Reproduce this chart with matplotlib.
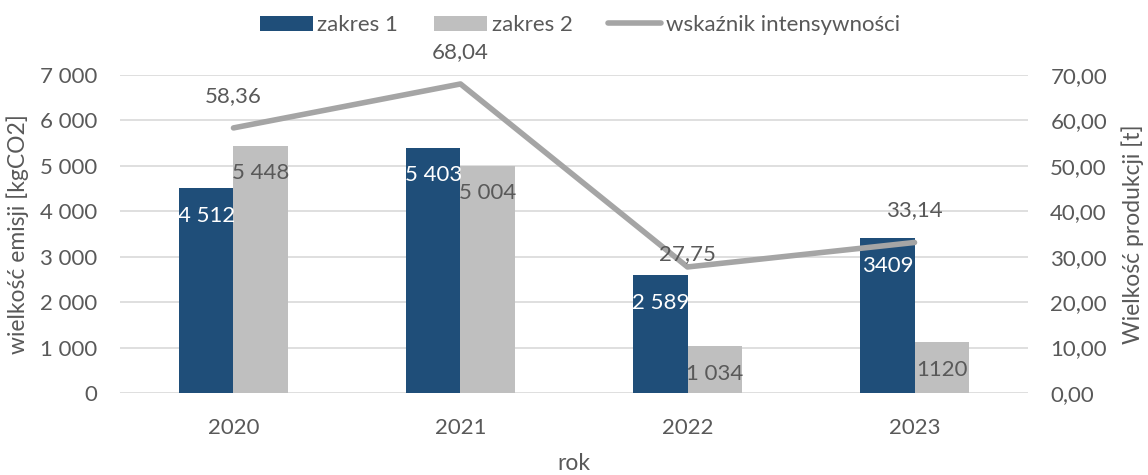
import matplotlib
matplotlib.use("Agg")
import matplotlib.pyplot as plt
import numpy as np
from matplotlib.ticker import FuncFormatter

plt.rcParams['font.family'] = ['Lato', 'DejaVu Sans']

years = ["2020", "2021", "2022", "2023"]
zakres1 = [4512, 5403, 2589, 3409]
zakres2 = [5448, 5004, 1034, 1120]
zakres1_labels = ["4 512", "5 403", "2 589", "3409"]
zakres2_labels = ["5 448", "5 004", "1 034", "1120"]
wskaznik = [58.36, 68.04, 27.75, 33.14]
wskaznik_labels = ["58,36", "68,04", "27,75", "33,14"]

c_blue = "#1f4e79"
c_grey = "#bfbfbf"
c_line = "#a5a5a5"
c_text = "#595959"
c_grid = "#d9d9d9"

FS = 16

fig = plt.figure(figsize=(11.48, 4.75), dpi=100)
ax = fig.add_axes([0.1045, 0.1726, 0.791, 0.6694])
ax2 = ax.twinx()

x = np.arange(len(years))
w = 0.238
b1 = ax.bar(x - w / 2, zakres1, w, color=c_blue, label="zakres 1", zorder=2)
b2 = ax.bar(x + w / 2, zakres2, w, color=c_grey, label="zakres 2", zorder=2)

ax.set_ylim(0, 7000)
ax.set_xlim(-0.5, len(years) - 0.5)
ax.set_yticks(np.arange(0, 7001, 1000))
ax.yaxis.set_major_formatter(FuncFormatter(lambda v, p: f"{int(v):,}".replace(",", " ")))
ax.set_xticks(x)
ax.set_xticklabels(years)
ax.grid(axis="y", color=c_grid, linewidth=1.2, zorder=0)
ax.set_axisbelow(True)
for s in ax.spines.values():
    s.set_visible(False)
for s in ax2.spines.values():
    s.set_visible(False)
ax.tick_params(axis="y", length=0, colors=c_text, labelsize=FS, pad=16)
ax.tick_params(axis="x", length=0, colors=c_text, labelsize=FS, pad=18)

ax2.set_ylim(0, 70)
ax2.set_yticks(np.arange(0, 71, 10))
ax2.yaxis.set_major_formatter(FuncFormatter(lambda v, p: f"{v:.2f}".replace(".", ",")))
ax2.tick_params(axis="y", length=0, colors=c_text, labelsize=FS, pad=16)
ln, = ax2.plot(x, wskaznik, color=c_line, linewidth=4, label="wskaźnik intensywności",
               solid_capstyle="round", zorder=3)

ax.set_ylabel("wielkość emisji [kgCO2]", fontsize=FS + 0.5, color=c_text, labelpad=8)
ax2.set_ylabel("Wielkość produkcji [t]", fontsize=FS + 0.5, color=c_text, labelpad=10)
ax.set_xlabel("rok", fontsize=FS + 0.5, color=c_text, labelpad=11)

for xi, v, lab in zip(x, zakres1, zakres1_labels):
    ax.annotate(lab, (xi - w / 2, v), xytext=(0, -20), textcoords="offset points",
                ha="center", va="center", color="white", fontsize=FS, zorder=4)
for xi, v, lab in zip(x, zakres2, zakres2_labels):
    ax.annotate(lab, (xi + w / 2, v), xytext=(0, -20), textcoords="offset points",
                ha="center", va="center", color=c_text, fontsize=FS, zorder=4)

line_offsets = [23, 23, 9, 23]
for xi, v, lab, off in zip(x, wskaznik, wskaznik_labels, line_offsets):
    ax2.annotate(lab, (xi, v), xytext=(0, off), textcoords="offset points",
                 ha="center", va="center", color=c_text, fontsize=FS, zorder=4)

handles = [b1, b2, ln]
fig.legend(handles, [h.get_label() for h in handles], loc="upper center",
           bbox_to_anchor=(0.505, 1.01), ncol=3, frameon=False, fontsize=FS,
           labelcolor=c_text, handlelength=2.4, handleheight=0.7, columnspacing=1.6,
           handletextpad=0.2)

fig.savefig("out.png", dpi=100, facecolor="white")
